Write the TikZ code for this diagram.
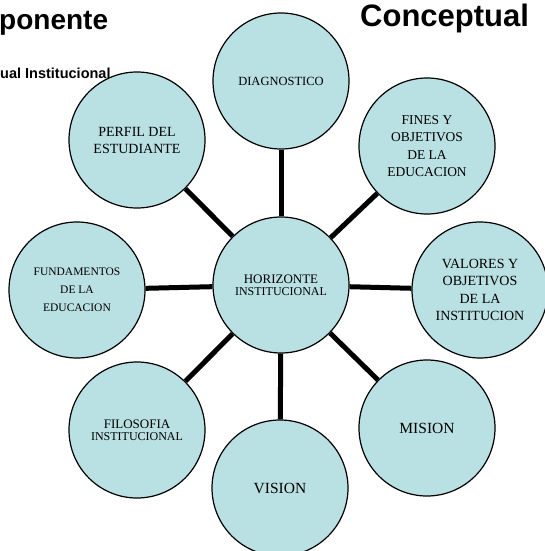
\documentclass[tikz,border=0pt]{standalone}
\usepackage{fontspec}
\setmainfont{Liberation Serif}
\newfontfamily\headfont{Liberation Sans}
\definecolor{circfill}{RGB}{185,224,227}
\newcommand{\fsz}[2]{\fontsize{#1}{#2}\selectfont}
\tikzset{
  topic/.style={circle, draw=black, line width=1.2pt, fill=circfill, minimum size=136pt, inner sep=0pt, align=center},
  spoke/.style={line width=5pt, black},
  head/.style={anchor=base west, inner sep=0pt, font=\headfont\bfseries\fsz{28}{34}}
}
\begin{document}
\begin{tikzpicture}[x=1pt,y=-1pt]
\useasboundingbox (0,0) rectangle (544,551);
% titulos
\node[head] (ttlcomp) at (-1,30) {ponente};
\node[head, font=\headfont\bfseries\fsz{31}{36}] (ttlconc) at (360,27) {Conceptual};
\node[head, font=\headfont\bfseries\fsz{14.5}{17}] (ttlinst) at (0,78) {ual Institucional};

% circulos
\node[topic] (hor) at (281,285) {{\fsz{13}{15}HORIZONTE}\\{\fsz{12}{15}INSTITUCIONAL}};
\node[topic, font=\fsz{12.5}{15}] (diag) at (281,81) {DIAGNOSTICO};
\node[topic, font=\fsz{13.5}{17.5}] (fines) at (427,146) {FINES Y\\OBJETIVOS\\DE LA\\EDUCACION};
\node[topic, font=\fsz{14}{17.3}] (valores) at (480,290) {VALORES Y\\OBJETIVOS\\DE LA\\INSTITUCION};
\node[topic, font=\fsz{15.5}{18}] (mision) at (427,428) {MISION};
\node[topic, font=\fsz{15.5}{18}] (vision) at (280,488) {VISION};
\node[topic] (filos) at (137,430) {{\fsz{13}{16}FILOSOFIA}\\{\fsz{12}{16}INSTITUCIONAL}};
\node[topic, font=\fsz{11.5}{18}] (fund) at (77,290) {FUNDAMENTOS\\DE LA\\EDUCACION};
\node[topic, font=\fsz{14}{17}] (perfil) at (137,140) {PERFIL DEL\\ESTUDIANTE};

% radios
\foreach \t in {diag,fines,valores,mision,vision,filos,fund,perfil}
  \draw[spoke] (hor) -- (\t);
\end{tikzpicture}
\end{document}
